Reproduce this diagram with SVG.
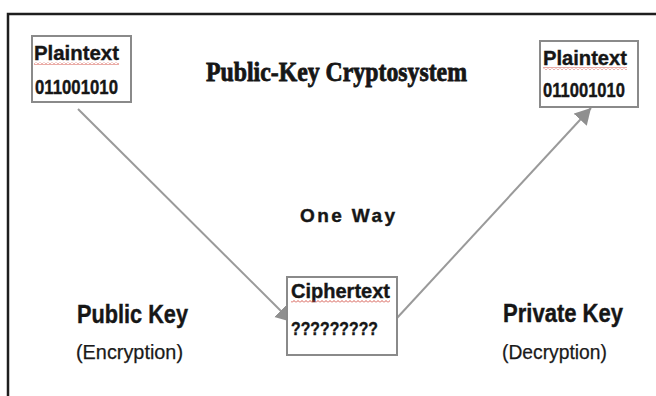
<svg xmlns="http://www.w3.org/2000/svg" width="656" height="396" viewBox="0 0 656 396">
  <style>
    .frame { fill: none; stroke: #1e1e1e; stroke-width: 2.5; }
    .box { fill: #ffffff; stroke: #8a8a8a; stroke-width: 2; }
    .conn { fill: none; stroke: #9a9a9a; stroke-width: 2; }
    .head { fill: #8f8f8f; }
    .lbl { font-family: "Liberation Sans", Arial, sans-serif; font-weight: bold; fill: #161616; stroke: #161616; stroke-width: 0.4; }
    .sub { font-family: "Liberation Sans", Arial, sans-serif; font-weight: normal; fill: #1a1a1a; stroke: #1a1a1a; stroke-width: 0.25; }
    .title { font-family: "Liberation Serif", "Times New Roman", serif; font-weight: bold; fill: #161616; stroke: #161616; stroke-width: 0.8; }
    .squig { fill: url(#squiggle); }
  </style>
  <defs>
    <marker id="arrow" markerUnits="userSpaceOnUse" markerWidth="18" markerHeight="20" refX="16" refY="9" orient="auto">
      <path class="head" d="M0,0 L16,9 L0,18 Z"/>
    </marker>
    <!-- red wavy spell-check underline -->
    <pattern id="squiggle" patternUnits="userSpaceOnUse" width="4" height="3">
      <polyline points="0,2.5 2,0.5 4,2.5" fill="none" stroke="#d0453a" stroke-width="0.9"/>
    </pattern>
  </defs>

  <rect x="0" y="0" width="656" height="396" fill="#ffffff"/>

  <!-- outer frame (top and left edges) -->
  <path class="frame" d="M8,396 L8,14 L656,14"/>

  <!-- free labels -->
  <text class="title" x="206" y="81" font-size="27" textLength="261" lengthAdjust="spacingAndGlyphs">Public-Key Cryptosystem</text>
  <text class="lbl" x="300" y="222" font-size="19" textLength="95" lengthAdjust="spacing" stroke-width="0.7">One Way</text>
  <text class="lbl" x="77" y="323" font-size="25" textLength="111" lengthAdjust="spacingAndGlyphs">Public Key</text>
  <text class="sub" x="76" y="359" font-size="21" textLength="107" lengthAdjust="spacingAndGlyphs">(Encryption)</text>
  <text class="lbl" x="503" y="322" font-size="25" textLength="120" lengthAdjust="spacingAndGlyphs">Private Key</text>
  <text class="sub" x="502" y="359" font-size="21" textLength="105" lengthAdjust="spacingAndGlyphs">(Decryption)</text>

  <!-- connectors -->
  <g id="connectors">
    <line class="conn" x1="78" y1="109" x2="292" y2="322" marker-end="url(#arrow)"/>
    <line class="conn" x1="397" y1="318" x2="591" y2="108" marker-end="url(#arrow)"/>
  </g>

  <!-- sender plaintext -->
  <g id="plaintext-in">
    <rect class="box" x="32" y="36" width="99" height="66"/>
    <text class="lbl" x="34" y="60" font-size="21" textLength="85" lengthAdjust="spacingAndGlyphs">Plaintext</text>
    <rect class="squig" x="34" y="62" width="85" height="3"/>
    <text class="lbl" x="35" y="94" font-size="20" textLength="83" lengthAdjust="spacingAndGlyphs">011001010</text>
  </g>

  <!-- ciphertext -->
  <g id="ciphertext">
    <rect class="box" x="287" y="277" width="110" height="78"/>
    <text class="lbl" x="291" y="298" font-size="21" textLength="99" lengthAdjust="spacingAndGlyphs">Ciphertext</text>
    <rect class="squig" x="291" y="300" width="99" height="3"/>
    <text class="lbl" x="291" y="335" font-size="19" textLength="87" lengthAdjust="spacingAndGlyphs">?????????</text>
  </g>

  <!-- receiver plaintext -->
  <g id="plaintext-out">
    <rect class="box" x="540" y="41" width="98" height="66"/>
    <text class="lbl" x="543" y="65" font-size="21" textLength="84" lengthAdjust="spacingAndGlyphs">Plaintext</text>
    <rect class="squig" x="543" y="67" width="84" height="3"/>
    <text class="lbl" x="543" y="97" font-size="20" textLength="82" lengthAdjust="spacingAndGlyphs">011001010</text>
  </g>
</svg>
